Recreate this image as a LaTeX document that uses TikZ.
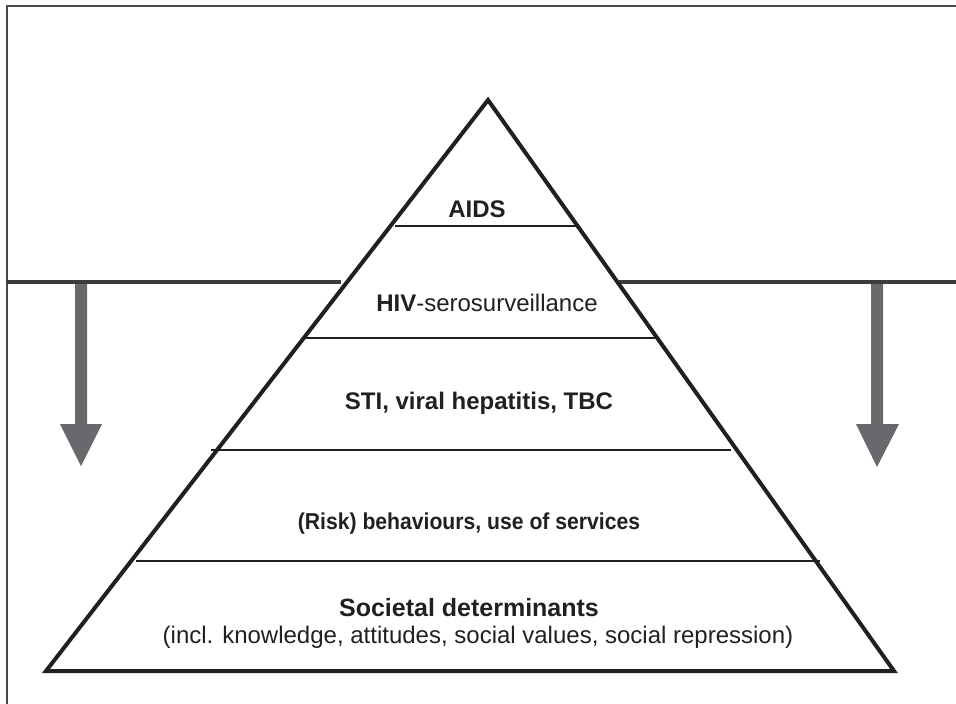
\documentclass[tikz,border=0pt]{standalone}
\usepackage{fontspec}
\setmainfont{Liberation Sans}
\definecolor{ink}{HTML}{231F20}
\definecolor{rule}{HTML}{3C3C3E}
\definecolor{framegray}{HTML}{4A4A4A}
\definecolor{arrowgray}{HTML}{69696D}
\begin{document}
\begin{tikzpicture}[x=1pt,y=-1pt,
  lvl/.style={font=\fontsize{24}{28}\selectfont, text=ink, inner sep=0pt, anchor=base},
  pyramid/.style={draw=ink, line width=4pt, line join=miter},
  divider/.style={draw=ink, line width=1.6pt},
  horizon/.style={draw=rule, line width=4pt},
  downarrow/.style={fill=arrowgray, draw=none}]
\useasboundingbox (0,0) rectangle (956,704);

% outer frame (only top and left edges fall inside the page)
\draw[framegray, line width=2pt] (960,6) -- (7,6) -- (7,710);

% horizon line on both sides of the pyramid
\coordinate (hl0) at (6,282);
\coordinate (hl1) at (341,282);
\coordinate (hr0) at (618,282);
\coordinate (hr1) at (960,282);
\draw[horizon] (hl0) -- (hl1);
\draw[horizon] (hr0) -- (hr1);

% downward arrows
\fill[downarrow] (75,284) -- (87,284) -- (87,424) -- (102,424) -- (81,466)
  -- (60,424) -- (75,424) -- cycle;
\fill[downarrow] (871,284) -- (883,284) -- (883,424) -- (899,424) -- (877,467)
  -- (856,424) -- (871,424) -- cycle;

% pyramid
\coordinate (apex) at (488,100);
\coordinate (bl) at (46,671);
\coordinate (br) at (894,671);
\draw[pyramid] (apex) -- (br) -- (bl) -- cycle;

% level dividers
\coordinate (d1l) at (395,226); \coordinate (d1r) at (577,226);
\coordinate (d2l) at (305,338); \coordinate (d2r) at (655,338);
\coordinate (d3l) at (211,450); \coordinate (d3r) at (731,450);
\coordinate (d4l) at (136,561); \coordinate (d4r) at (820,561);
\draw[divider] (d1l) -- (d1r);
\draw[divider] (d2l) -- (d2r);
\draw[divider] (d3l) -- (d3r);
\draw[divider] (d4l) -- (d4r);

% level labels
\node[lvl] (aids) at (477,217) {\bfseries AIDS};
\node[lvl] (hiv) at (487,311) {\textbf{HIV}-serosurveillance};
\node[lvl] (sti) at (479,409) {\bfseries STI, viral hepatitis, TBC};
\node[lvl, font=\fontsize{23}{27}\selectfont] (risk) at (469,529)
  {\scalebox{0.92}[1]{\bfseries (Risk) behaviours, use of services}};
\node[lvl, font=\fontsize{25}{29}\selectfont] (soc) at (469,616) {\bfseries Societal determinants};
\node[lvl] (incl) at (478,643) {(incl. knowledge, attitudes, social values, social repression)};
\end{tikzpicture}
\end{document}
